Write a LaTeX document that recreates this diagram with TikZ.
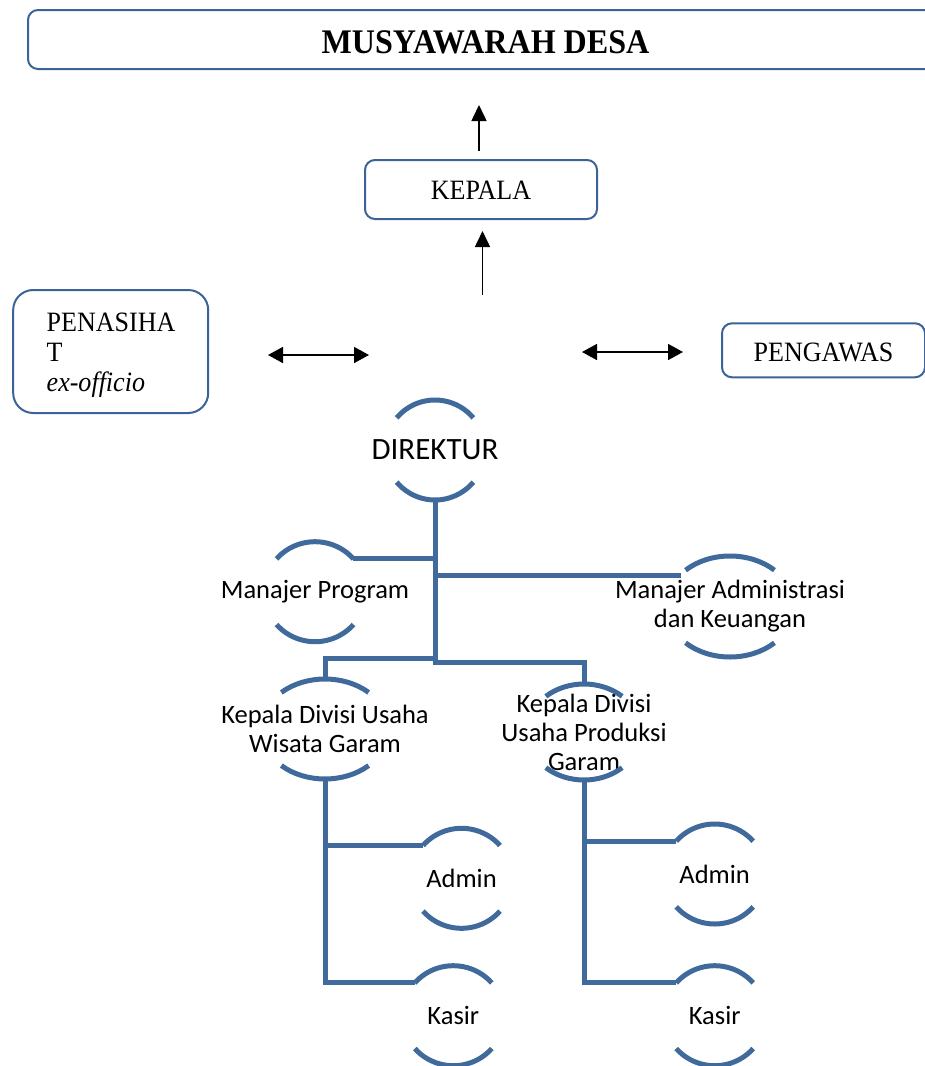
\documentclass[tikz,border=0pt]{standalone}
\usepackage{fontspec}
\setmainfont[FakeStretch=0.93]{Liberation Serif}
\newfontfamily\calibri{Carlito}
\usetikzlibrary{arrows.meta}

\definecolor{orgblue}{RGB}{65,106,156}
\definecolor{boxblue}{RGB}{58,100,152}

%% 上下两段弧的“括号”节点：#1 节点名，#2 x 半径，#3 y 半径，#4 半张角
\newcommand\bubble[4]{%
  \path (#1.center) ++(0,-#3) coordinate (#1-top)
        (#1.center) ++(0,#3)  coordinate (#1-bot)
        (#1.center) ++(270-#4:#2 and #3) coordinate (#1-tl)
        (#1.center) ++(270+#4:#2 and #3) coordinate (#1-tr)
        (#1.center) ++(90-#4:#2 and #3)  coordinate (#1-br)
        (#1.center) ++(90+#4:#2 and #3)  coordinate (#1-bl);
  \draw[orgline] (#1-tl) arc[start angle=270-#4, end angle=270+#4, x radius=#2, y radius=#3];
  \draw[orgline] (#1-br) arc[start angle=90-#4, end angle=90+#4, x radius=#2, y radius=#3];
}

\begin{document}
\begin{tikzpicture}[x=1pt, y=-1pt, line join=miter,
    rbox/.style={draw=boxblue, line width=2pt, rounded corners=10pt, inner sep=0pt,
                 font=\fontsize{28}{30}\selectfont},
    lbl/.style={font=\calibri\fontsize{26.5}{29}\selectfont, align=center, inner sep=0pt},
    orgline/.style={draw=orgblue, line width=5pt},
    arr/.style={-{Triangle[length=16pt,width=15pt]}, line width=1.6pt},
    dblarr/.style={{Triangle[length=15pt,width=16pt]}-{Triangle[length=15pt,width=16pt]}, line width=1.6pt}]

  %% ════ 上层方框 ════
  \node[rbox, font=\bfseries\fontsize{34.5}{38}\selectfont, minimum width=915, minimum height=59,
        text height=27pt, text depth=0pt] (musdes) at (485.5,39.5) {MUSYAWARAH DESA};
  \node[rbox, minimum width=232, minimum height=59, text height=19pt, text depth=0pt]
        (kepala) at (481,189.5) {KEPALA};
  \node[rbox, rounded corners=20pt, minimum width=195, minimum height=123,
        text width=128pt, align=left] (penasihat) at (110.7,351.5)
        {\rule{0pt}{25pt}PENASIHA\\T\\\textit{ex-officio}};
  \node[rbox, minimum width=203, minimum height=54, text height=22pt, text depth=0pt]
        (pengawas) at (823.5,350.3) {PENGAWAS};

  %% ════ 黑色箭头（两端悬空，用坐标钉住）════
  \coordinate (upA0) at (479,151);   \coordinate (upA1) at (479,105);
  \coordinate (upB0) at (482.5,295); \coordinate (upB1) at (482.5,231);
  \coordinate (penL) at (268,355);   \coordinate (penR) at (369,355);
  \coordinate (pwsL) at (582,352);   \coordinate (pwsR) at (683,352);
  \draw[arr] (upA0) -- (upA1);
  \draw[arr] (upB0) -- (upB1);
  \draw[dblarr] (penL) -- (penR);
  \draw[dblarr] (pwsL) -- (pwsR);

  %% ════ 组织节点（文字 + 弧）════
  \node[lbl, font=\calibri\fontsize{31}{36}\selectfont] (dir) at (435,450) {DIREKTUR};
  \node[lbl] (mprog) at (315,591.7) {Manajer Program};
  \node[lbl] (madm)  at (730,606.5) {Manajer Administrasi\\dan Keuangan};
  \node[lbl] (kdw)   at (325,729)   {Kepala Divisi Usaha\\Wisata Garam};
  \node[lbl] (kdp)   at (584,732)   {Kepala Divisi\\Usaha Produksi\\Garam};
  \node[lbl] (adm1)  at (461.5,878.3)  {Admin};
  \node[lbl] (ksr1)  at (453.3,1015.7) {Kasir};
  \node[lbl] (adm2)  at (714.7,874)    {Admin};
  \node[lbl] (ksr2)  at (714.7,1015.7) {Kasir};

  \bubble{dir}{50}{50}{50}
  \bubble{mprog}{51}{50}{49}
  \bubble{madm}{64}{50.5}{44}
  \bubble{kdw}{64}{50}{43}
  \bubble{kdp}{57}{48}{42}
  \bubble{adm1}{51}{50}{49}
  \bubble{ksr1}{51}{50}{49}
  \bubble{adm2}{51}{50}{49}
  \bubble{ksr2}{51}{50}{49}

  %% ════ 蓝色连线 ════
  \coordinate (hubL) at (435,658.5);
  \coordinate (hubR) at (435,662.5);
  \coordinate (madmIn) at ([xshift=-5pt,yshift=-5pt]madm-tl);
  \draw[orgline] (dir-bot) -- (hubR) -| (kdp-top);
  \draw[orgline] (hubL) -| (kdw-top);
  \draw[orgline] (mprog-tr) -- (mprog-tr -| dir-bot);
  \draw[orgline] (madmIn -| dir-bot) -- (madmIn);
  \draw[orgline] (kdw-bot) |- (adm1-tl);
  \draw[orgline] (kdw-bot) |- (ksr1-tl);
  \draw[orgline] (kdp-bot) |- (adm2-tl);
  \draw[orgline] (kdp-bot) |- (ksr2-tl);

  % 钉死画布
  \pgfresetboundingbox
  \path[use as bounding box] (0,0) rectangle (925,1066);
\end{tikzpicture}
\end{document}
